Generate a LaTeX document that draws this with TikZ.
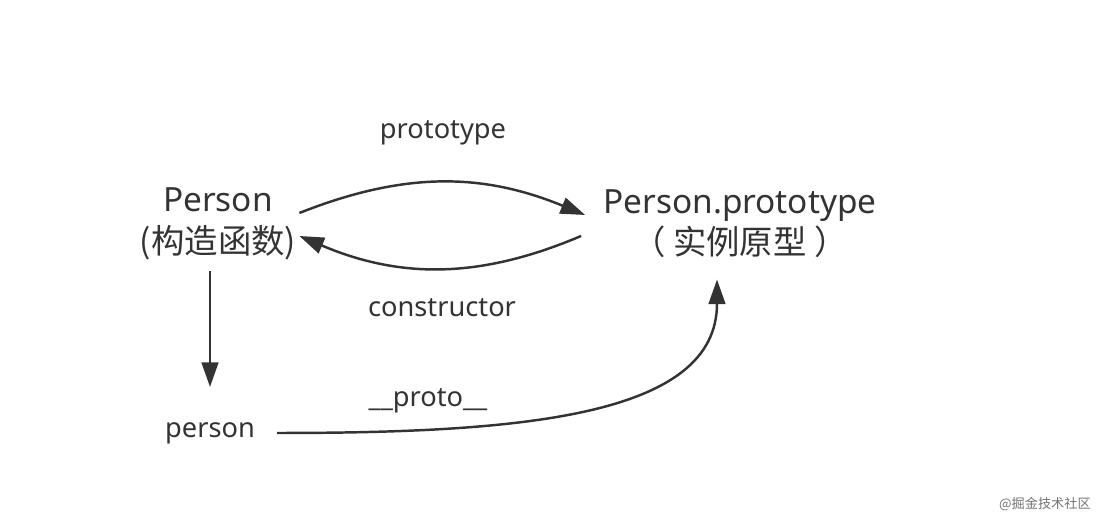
\documentclass[tikz,border=0pt]{standalone}
\usepackage{fontspec}
\setmainfont{Noto Sans}
\newfontfamily\cjk{Noto Sans CJK SC}
\usetikzlibrary{arrows.meta,positioning}
\definecolor{ink}{HTML}{333333}

\begin{document}
\begin{tikzpicture}[x=0.02cm,y=0.02cm,
	main/.style={inner sep=0pt, align=center, text=ink, font=\fontsize{19}{23.5}\selectfont},
	lbl/.style={inner sep=0pt, text=ink, font=\fontsize{15.5}{18}\selectfont},
	arr/.style={draw=ink, line width=1.4pt, -{Triangle[length=14pt,width=9.5pt]}}]
	\useasboundingbox (0,0) rectangle (1096,519);

	\node[main] (ctor) at (218,295) {Person\\{\cjk (构造函数)}};
	\node[main] (proto) at (740,295) {Person.prototype\\{\cjk （ 实例原型 ）}};
	\node[lbl] (person) at (210,86) {person};

	\node[lbl] (protoLbl) at (443,386) {prototype};
	\node[lbl] (ctorLbl) at (442,211) {constructor};
	\node[lbl] (dunderLbl) at (428,118) {\_\_proto\_\_};

	% prototype / constructor
	\draw[arr] ([xshift=0.06cm,yshift=0.22cm]ctor.east) to[bend left=22] ([xshift=-0.36cm,yshift=0.18cm]proto.west);
	\draw[arr] ([xshift=-0.44cm,yshift=-0.24cm]proto.west) to[bend left=23] ([xshift=0.06cm,yshift=-0.24cm]ctor.east);
	% new
	\draw[arr, shorten <=0.22cm, shorten >=0.7cm] (person |- ctor.south) -- (person.north);
	% __proto__
	\draw[arr] ([xshift=0.44cm]person.east) .. controls +(245,0) and +(0,-137) .. ([xshift=-0.46cm,yshift=-0.42cm]proto.south);

	\node[font=\cjk\fontsize{7.5}{9}\selectfont, text=black!55, inner sep=0pt] (mark) at (1045,15) {@掘金技术社区};
\end{tikzpicture}
\end{document}
